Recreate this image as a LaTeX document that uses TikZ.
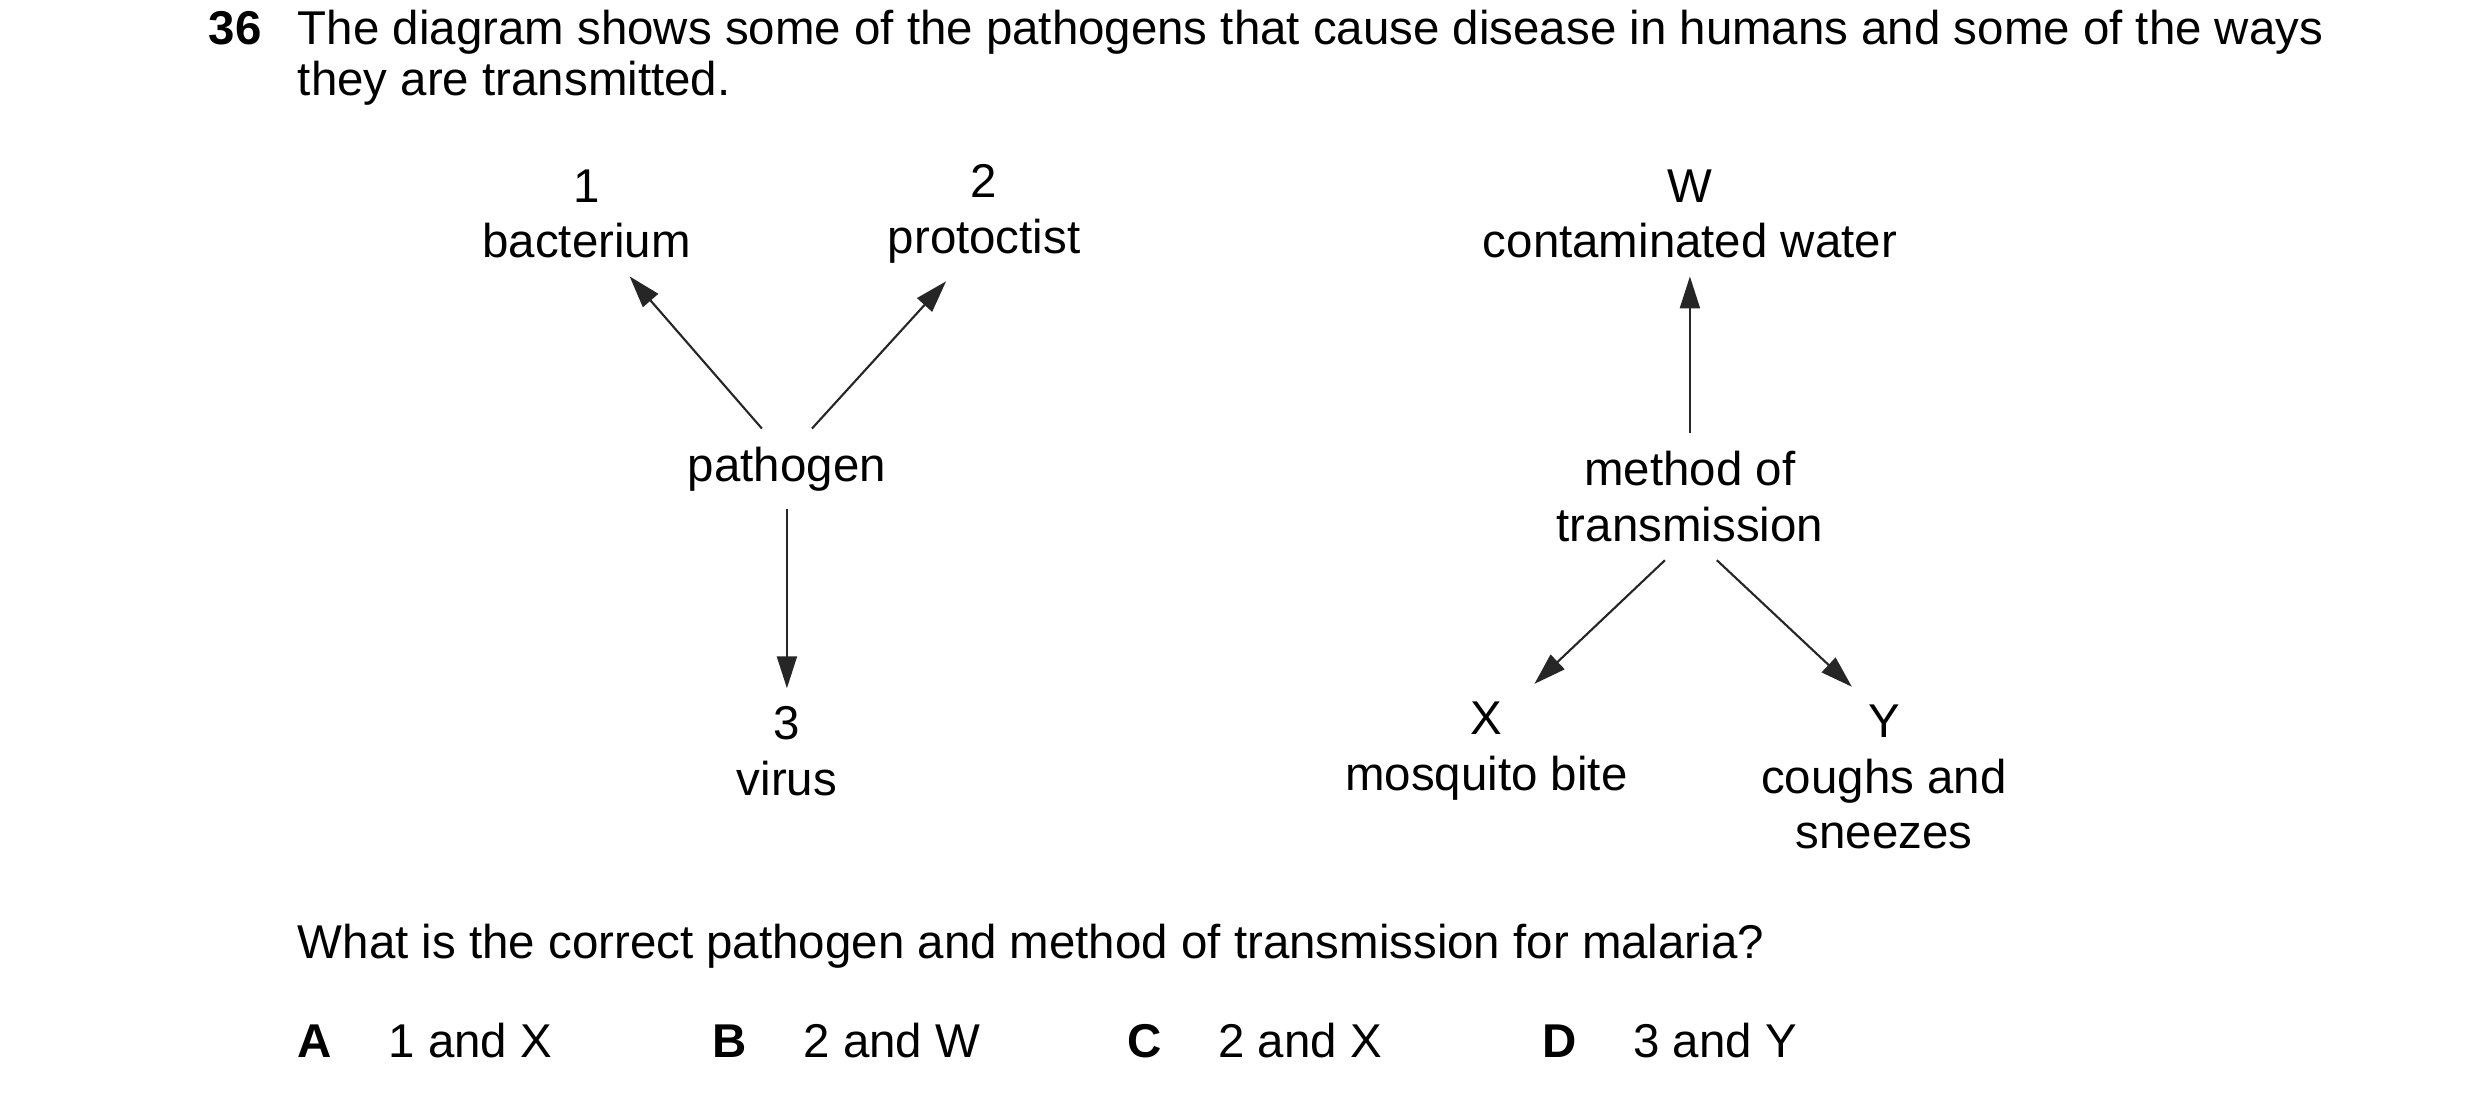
\documentclass[tikz,border=0pt]{standalone}
\usepackage{fontspec}
\setmainfont{Liberation Sans}
\usetikzlibrary{arrows.meta}
\tikzset{
    every node/.style={font=\fontsize{13.5}{15.8}\selectfont},
    lbl/.style={align=center, inner sep=5pt},
    txt/.style={anchor=base west, inner sep=0pt},
    arr/.style={-{Stealth[length=0.32cm,width=0.2cm,inset=0pt]}, line width=0.6pt, black!85}
}
\begin{document}
\begin{tikzpicture}[x=0.0159cm,y=-0.0159cm]
        \useasboundingbox (0,0) rectangle (1560,689);
        % question text
        \node[txt, font=\fontsize{13.5}{15.8}\selectfont\bfseries] (qnum) at (131,28) {36};
        \node[txt] (qline1) at (187,28) {The diagram shows some of the pathogens that cause disease in humans and some of the ways};
        \node[txt] (qline2) at (187,60) {they are transmitted.};
        % pathogens
        \node[lbl] (bact) at (369,134.5) {1\\bacterium};
        \node[lbl] (prot) at (619,134.5) {2\\protoctist};
        \node[lbl] (pathogen) at (495,295) {pathogen};
        \node[lbl] (virus) at (495,472.5) {3\\virus};
        \draw[arr] ([xshift=-0.25cm]pathogen.north) -- ([xshift=0.43cm]bact.south);
        \draw[arr] ([xshift=0.25cm]pathogen.north) -- ([xshift=-0.38cm]prot.south);
        \draw[arr] (pathogen.south) -- (virus.north);
        % methods of transmission
        \node[lbl] (water) at (1063,134.5) {W\\contaminated water};
        \node[lbl] (method) at (1063,312.5) {method of\\transmission};
        \node[lbl] (mosq) at (935,472.5) {X\\mosquito bite};
        \node[lbl, anchor=north] (cough) at (1185,432) {Y\\coughs and\\sneezes};
        \draw[arr] (method.north) -- (water.south);
        \draw[arr] ([xshift=-0.25cm]method.south) -- ([xshift=0.48cm]mosq.north);
        \draw[arr] ([xshift=0.27cm]method.south) -- ([xshift=-0.32cm]cough.north);
        % answers
        \node[txt] (ask) at (187,603) {What is the correct pathogen and method of transmission for malaria?};
        \foreach \ltr/\xl/\xt/\ans in {A/187/244/1 and X, B/448/505/2 and W, C/709/766/2 and X, D/970/1027/3 and Y}{
            \node[txt, font=\fontsize{13.5}{15.8}\selectfont\bfseries] (opt\ltr) at (\xl,665) {\ltr};
            \node[txt] (ans\ltr) at (\xt,665) {\ans};
        }
    \end{tikzpicture}
\end{document}
